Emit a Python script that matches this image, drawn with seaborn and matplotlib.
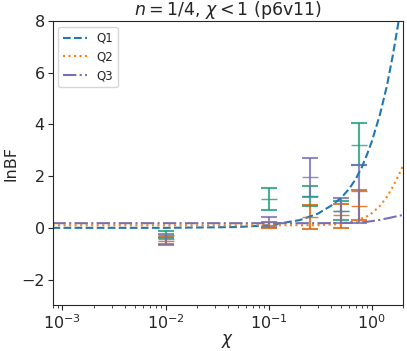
import numpy as np
import pandas as pd
import matplotlib
matplotlib.use("Agg")
import matplotlib.pyplot as plt
import seaborn as sns

sns.set_style("ticks")
plt.rcParams['font.family'] = ['DejaVu Sans']

# model curves
q1_chi = [8e-4, 0.01, 0.05, 0.1, 0.2, 0.3, 0.4, 0.5, 0.6, 0.7, 0.8, 0.9, 1.0, 1.2, 1.4, 1.6, 1.8, 2.0]
q1_val = [0.0, 0.0, 0.03, 0.1, 0.3, 0.55, 0.85, 1.15, 1.5, 1.9, 2.35, 2.85, 3.35, 4.4, 5.5, 6.7, 7.9, 9.1]
q2_chi = [8e-4, 0.1, 0.3, 0.5, 0.7, 0.9, 1.0, 1.2, 1.4, 1.6, 1.8, 2.0]
q2_val = [0.1, 0.1, 0.1, 0.15, 0.28, 0.45, 0.57, 0.85, 1.2, 1.6, 2.0, 2.4]
q3_chi = [8e-4, 0.3, 0.6, 0.8, 1.0, 1.2, 1.5, 2.0]
q3_val = [0.18, 0.18, 0.19, 0.21, 0.26, 0.31, 0.39, 0.5]

# measured lnBF with error bars
chi_pts = [0.01, 0.1, 0.25, 0.5, 0.75]
g_mean = [-0.27, 1.10, 1.23, 0.65, 3.22]
g_lo = [0.12, 0.42, 0.40, 0.34, 0.80]
g_hi = [0.15, 0.43, 0.40, 0.39, 0.85]
o_mean = [-0.50, 0.12, 0.42, 0.50, 0.86]
o_lo = [0.18, 0.12, 0.45, 0.51, 0.56]
o_hi = [0.15, 0.12, 0.45, 0.42, 0.61]
p_mean = [-0.42, 0.22, 1.95, 0.65, 1.42]
p_lo = [0.20, 0.20, 0.77, 0.46, 1.23]
p_hi = [0.20, 0.18, 0.77, 0.52, 1.00]

fig, ax = plt.subplots(figsize=(4.07, 3.51), dpi=100)

for m, lo, hi, c in [(g_mean, g_lo, g_hi, '#1b9e77'),
                     (o_mean, o_lo, o_hi, '#d95f02'),
                     (p_mean, p_lo, p_hi, '#7570b3')]:
    ax.errorbar(chi_pts, m, yerr=[lo, hi], fmt='_', color=c, ms=11,
                capsize=5.5, elinewidth=1.5, capthick=1.5, alpha=0.8)

df1 = pd.DataFrame({'chi': q1_chi, 'lnBF': q1_val})
df2 = pd.DataFrame({'chi': q2_chi, 'lnBF': q2_val})
df3 = pd.DataFrame({'chi': q3_chi, 'lnBF': q3_val})
sns.lineplot(data=df1, x='chi', y='lnBF', ax=ax, color='tab:blue', ls='--', lw=1.5, label='Q1')
sns.lineplot(data=df2, x='chi', y='lnBF', ax=ax, color='tab:orange', ls=':', lw=1.5, label='Q2')
sns.lineplot(data=df3, x='chi', y='lnBF', ax=ax, color='#7570b3', ls='-.', lw=1.5, label='Q3')

ax.set_xscale('log')
ax.set_xlim(8e-4, 2)
ax.set_ylim(-3, 8)
ax.set_yticks([-2, 0, 2, 4, 6, 8])
ax.tick_params(labelsize=11.5, pad=2)
ax.set_xlabel(r'$\chi$', fontsize=12, labelpad=0)
ax.set_ylabel('lnBF', fontsize=11.5, labelpad=2)
ax.set_title(r'$n=1/4$, $\chi<1$ (p6v11)', fontsize=12.5, pad=2)
ax.legend(loc='upper left', fontsize=8.5)

fig.subplots_adjust(left=0.129, right=0.990, top=0.940, bottom=0.130)
fig.savefig('out.png', dpi=100)
